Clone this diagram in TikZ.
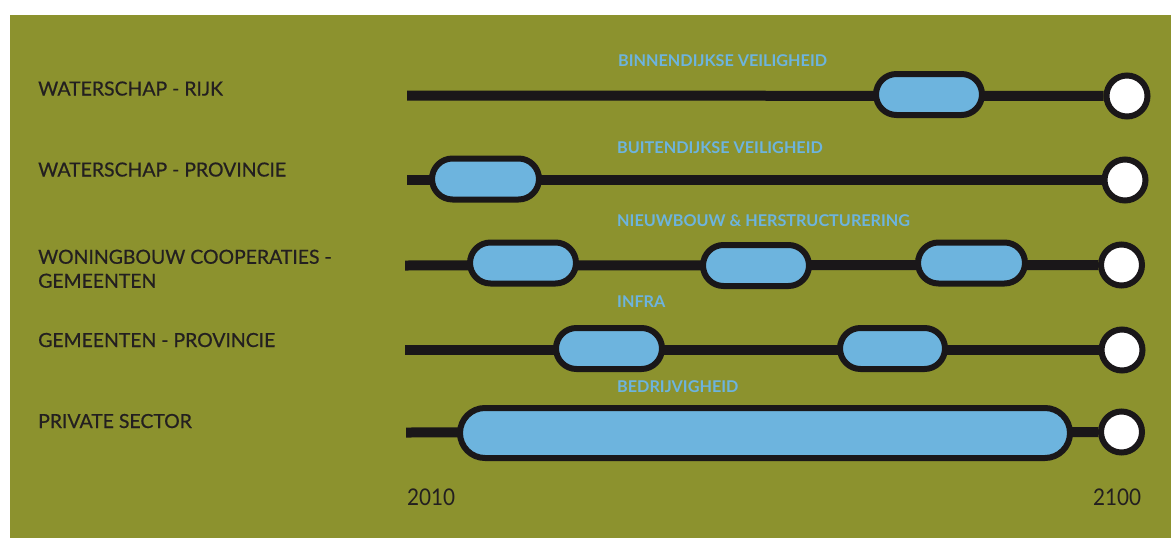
\documentclass[tikz,border=0pt]{standalone}
\usepackage{fontspec}
\setmainfont{Lato}
\newfontfamily\labfont[FakeBold=0.6]{Lato}
\newfontfamily\yearfont[FakeStretch=0.9]{Lato}
\newfontfamily\catfont{Lato Bold}
\usetikzlibrary{shapes.misc}
\definecolor{olive}{RGB}{140,146,46}
\definecolor{pillblue}{RGB}{109,180,222}
\definecolor{lineblack}{RGB}{26,23,25}
\definecolor{textdark}{RGB}{35,31,32}
\tikzset{
  track/.style={draw=lineblack, line width=10pt},
  pill/.style={shape=rounded rectangle, draw=lineblack, fill=pillblue, line width=6pt, inner sep=0pt, minimum height=41pt},
  endcircle/.style={shape=circle, draw=lineblack, fill=white, line width=6pt, inner sep=0pt, minimum size=41pt},
  rowlabel/.style={anchor=base west, inner sep=0pt, text=textdark, font=\labfont\fontsize{19.4}{24}\selectfont, align=left},
  catlabel/.style={anchor=base west, inner sep=0pt, text=pillblue, font=\catfont\fontsize{16.2}{19}\selectfont},
  yearlabel/.style={anchor=base west, inner sep=0pt, text=textdark, font=\yearfont\fontsize{23}{27}\selectfont},
}
\begin{document}
\begin{tikzpicture}[x=1pt, y=-1pt]
\useasboundingbox (0,0) rectangle (1171,538);
\fill[white] (0,0) rectangle (1171,538);
\fill[olive] (10,15) rectangle (1171,538);

% row labels
\node[rowlabel] (l1) at (38,95.5) {WATERSCHAP - RIJK};
\node[rowlabel] (l2) at (38,176.5) {WATERSCHAP - PROVINCIE};
\node[rowlabel, anchor=north west] (l3) at (38,249.5) {WONINGBOUW COOPERATIES -\\GEMEENTEN};
\node[rowlabel] (l4) at (38,347) {GEMEENTEN - PROVINCIE};
\node[rowlabel] (l5) at (38,428) {PRIVATE SECTOR};

% category labels
\node[catlabel] (c1) at (618,66) {BINNENDIJKSE VEILIGHEID};
\node[catlabel] (c2) at (617,153) {BUITENDIJKSE VEILIGHEID};
\node[catlabel] (c3) at (617,226) {NIEUWBOUW \& HERSTRUCTURERING};
\node[catlabel] (c4) at (617,307) {INFRA};
\node[catlabel] (c5) at (617,392.5) {BEDRIJVIGHEID};

% start points
\coordinate (s1) at (407,95.5);
\coordinate (s2) at (407,180);
\coordinate (s3) at (405,265.5);
\coordinate (s4) at (405,350);
\coordinate (s5) at (406,432.5);

% end circles
\node[endcircle] (e1) at (1127,96) {};
\node[endcircle] (e2) at (1125,180) {};
\node[endcircle] (e3) at (1121.5,265) {};
\node[endcircle] (e4) at (1122,350) {};
\node[endcircle] (e5) at (1121.5,432) {};

% tracks
\draw[track] (s1) -- (e1);
\draw[track] (s2) -- (e2);
\draw[track] (s3) -- (e3);
\draw[track] (s4) -- (e4);
\draw[track] (s5) -- (e5);

% pills
\node[pill, minimum width=106pt] (p11) at (929,94.5) {};
\node[pill, minimum width=107pt] (p21) at (485.5,179) {};
\node[pill, minimum width=106pt] (p31) at (523,263) {};
\node[pill, minimum width=106pt] (p32) at (756,265.5) {};
\node[pill, minimum width=107pt] (p33) at (971.5,263) {};
\node[pill, minimum width=106pt] (p41) at (609,348.5) {};
\node[pill, minimum width=105pt] (p42) at (892.5,348.5) {};
\node[pill, minimum width=610pt, minimum height=50pt] (p51) at (765,433) {};

% years
\node[yearlabel] (y1) at (407,505.5) {2010};
\node[yearlabel] (y2) at (1093,505.5) {2100};
\end{tikzpicture}
\end{document}
